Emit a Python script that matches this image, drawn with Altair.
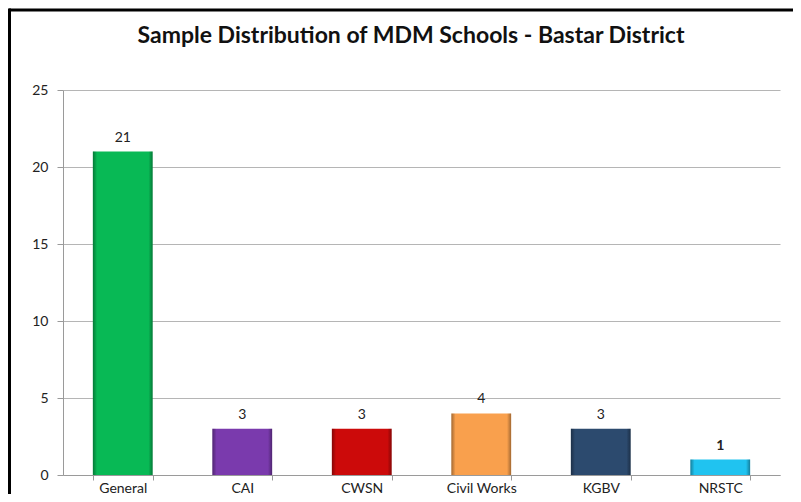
import altair as alt
import pandas as pd

categories = ["General", "CAI", "CWSN", "Civil Works", "KGBV", "NRSTC"]
values = [21, 3, 3, 4, 3, 1]
colors = ["#08B955", "#7A3AAD", "#CC0A0A", "#F9A04D", "#2C4A6E", "#20C3F0"]
bold_flags = [False, False, False, False, False, True]
title_text = "Sample Distribution of MDM Schools - Bastar District"
y_ticks = [0, 5, 10, 15, 20, 25]

df = pd.DataFrame({"cat": categories, "val": values, "col": colors, "bold": bold_flags})

FONT = "Lato"

x_enc = alt.X("cat:N", sort=categories, title=None,
              scale=alt.Scale(paddingInner=0.5, paddingOuter=0.25),
              axis=alt.Axis(labelAngle=0, labelFont=FONT, labelFontSize=14,
                            labelColor="#222222", labelPadding=1, tickBand="extent",
                            tickSize=5, tickColor="#9a9a9a", domainColor="#9a9a9a",
                            grid=False))
y_enc = alt.Y("val:Q", title=None,
              scale=alt.Scale(domain=[0, 25], nice=False),
              axis=alt.Axis(values=y_ticks, labelFont=FONT, labelFontSize=14,
                            labelColor="#222222", labelPadding=9, tickSize=6,
                            tickColor="#9a9a9a", domainColor="#9a9a9a",
                            gridColor="#b5b5b5", gridWidth=1))

base = alt.Chart(df)

bars = base.mark_bar(stroke=None).encode(
    x=x_enc, y=y_enc,
    color=alt.Color("col:N", scale=None),
)

shade = base.mark_bar(
    color=alt.Gradient(gradient="linear", x1=0, x2=1, y1=0, y2=0,
                       stops=[alt.GradientStop(color="rgba(0,0,0,0.35)", offset=0),
                              alt.GradientStop(color="rgba(0,0,0,0)", offset=0.07),
                              alt.GradientStop(color="rgba(0,0,0,0)", offset=0.93),
                              alt.GradientStop(color="rgba(0,0,0,0.35)", offset=1)])
).encode(x=alt.X("cat:N", sort=categories), y="val:Q")

labels = base.transform_filter("!datum.bold").mark_text(
    font=FONT, fontSize=14, color="#222222", baseline="middle", dy=-14).encode(
    x=alt.X("cat:N", sort=categories), y="val:Q", text="val:Q")
labels_bold = base.transform_filter("datum.bold").mark_text(
    font=FONT, fontSize=14, fontWeight="bold", color="#222222", baseline="middle", dy=-14).encode(
    x=alt.X("cat:N", sort=categories), y="val:Q", text="val:Q")

title = alt.Chart(pd.DataFrame({"t": [title_text]})).mark_text(
    font=FONT, fontSize=23, fontWeight="bold", color="#111111", baseline="middle", align="center"
).encode(text="t:N", x=alt.value(348), y=alt.value(-54))

border_top = alt.Chart(pd.DataFrame({"a": [0]})).mark_rule(color="#000000", strokeWidth=3).encode(
    x=alt.value(-54), x2=alt.value(800), y=alt.value(-80))
border_left = alt.Chart(pd.DataFrame({"a": [0]})).mark_rule(color="#000000", strokeWidth=3).encode(
    x=alt.value(-53.5), y=alt.value(-81.5), y2=alt.value(500))

chart = alt.layer(bars, shade, labels, labels_bold, title, border_top, border_left).properties(
    width=717, height=385,
    padding={"left": 55, "top": 82, "right": 13, "bottom": 19},
    autosize=alt.AutoSizeParams(type="none"),
    background="white",
).configure_view(stroke=None)

chart.save("out.html", embed_options={"renderer": "svg", "actions": False})
